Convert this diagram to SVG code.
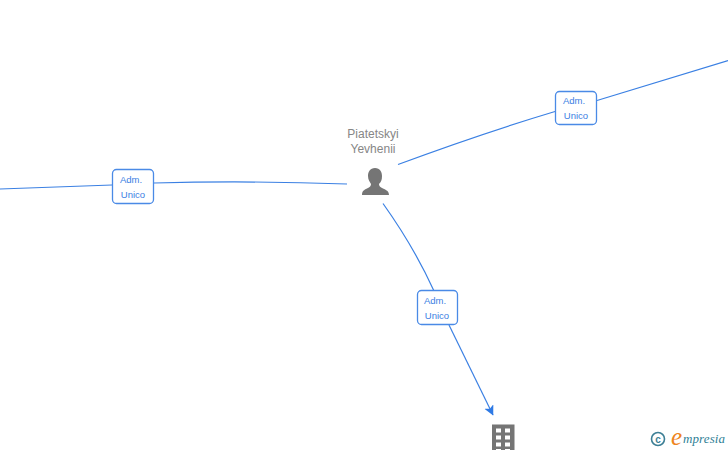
<svg xmlns="http://www.w3.org/2000/svg" width="728" height="450" viewBox="0 0 728 450">
<style>
.c{fill:none;stroke:#3b80e3;stroke-width:1.2}
.b{fill:#fff;stroke:#4a8ae6;stroke-width:1.300}
.l{font:9.500px "Liberation Sans",Arial,sans-serif;fill:#3b80e3;text-anchor:middle}
.n{font:12px "Liberation Sans",Arial,sans-serif;fill:#868686;text-anchor:middle}
.g{fill:#757575}
</style>
<defs><marker id="a" markerWidth="12" markerHeight="12" refX="9.500" refY="5" orient="auto" markerUnits="userSpaceOnUse"><path d="M0 0L10 5L0 10L2.500 5Z" fill="#2f7ae5"/></marker></defs>
<rect width="728" height="450" fill="#fff"/>
<g id="connectors">
<path class="c" d="M398 164.500Q480 134 555 111.500"/>
<path class="c" d="M597 100.500L728 60.500"/>
<path class="c" d="M347 184Q250 180.500 154 183"/>
<path class="c" d="M112 185L0 189"/>
<path class="c" d="M383 203.500Q414 247 434 291"/>
<path class="c" d="M449 325L493 415" marker-end="url(#a)"/>
</g>
<g id="edge-right"><rect class="b" x="555.500" y="91.500" width="41" height="33" rx="4"/><text class="l" x="574" y="104">Adm.</text><text class="l" x="576" y="119">Unico</text></g>
<g id="edge-left"><rect class="b" x="112.500" y="169.500" width="41" height="34" rx="4"/><text class="l" x="131" y="183">Adm.</text><text class="l" x="133" y="198">Unico</text></g>
<g id="edge-down"><rect class="b" x="417.500" y="290.500" width="40" height="34" rx="4"/><text class="l" x="435" y="304">Adm.</text><text class="l" x="437" y="319">Unico</text></g>
<g id="person">
<text class="n" x="373" y="138">Piatetskyi</text><text class="n" x="373" y="153">Yevhenii</text>
<path class="g" d="M375 168C370 168 368 172 368 176C368 180 370 182 371 184C371 186 370 187 367 188.500C364 190 362 191 362 195L389 195C389 191 386 190 383 188.500C380 187 379 186 379 184C381 182 382 180 382 176C382 172 380 168 375 168Z"/>
</g>
<g id="company">
<path class="g" fill-rule="evenodd" d="M492 424.500H514.500V450H492ZM496 428.500V432.500H501V428.500ZM505 428.500V432.500H510V428.500ZM496 435.500V439.500H501V435.500ZM505 435.500V439.500H510V435.500ZM496 442.500V446.500H501V442.500ZM505 442.500V446.500H510V442.500ZM496 449V450H501V449ZM505 449V450H510V449Z"/>
</g>
<g id="logo">
<circle cx="658" cy="439" r="6.500" fill="none" stroke="#3d7f95" stroke-width="1.600"/>
<text x="658" y="442.500" font-family="Liberation Sans,sans-serif" font-size="10" font-weight="bold" fill="#3d7f95" text-anchor="middle">c</text>
<text x="671" y="445" font-family="Liberation Serif,serif" font-style="italic" font-size="25" fill="#ee8420">e</text>
<text x="683" y="443" font-family="Liberation Serif,serif" font-style="italic" font-size="13" fill="#2f7f96" textLength="42" lengthAdjust="spacing">mpresia</text>
</g>
</svg>
